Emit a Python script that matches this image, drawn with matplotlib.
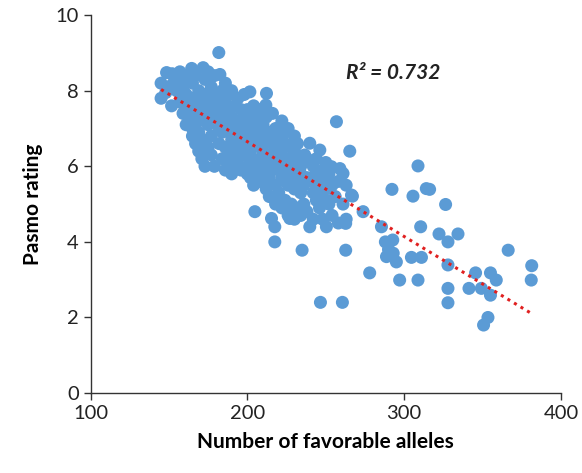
import numpy as np
import matplotlib as mpl
import matplotlib.pyplot as plt

mpl.use('Agg')

# (number of favorable alleles, pasmo rating)
dense_points = [
    (145, 7.8), (145, 8.2), (148.5, 8.48), (148, 7.95), (150, 8.1), (151.7, 7.6),
    (152.7, 8.19), (152, 8.45), (155, 8.0), (155, 8.3), (157, 7.7), (157, 8.5),
    (159.1, 8.41), (159, 8.1), (159, 7.4), (161, 7.9), (161, 8.3), (161, 7.1),
    (164.5, 8.59), (163, 7.6), (163, 7.3), (165, 8.2), (165, 7.8), (165, 7.0),
    (165, 6.8), (167, 8.4), (167, 7.5), (167, 6.6), (169, 8.0), (169, 7.2),
    (169, 6.9), (169, 6.4), (171.8, 8.61), (171, 7.7), (171, 6.2), (171, 6.7),
    (173, 8.3), (173, 7.4), (173, 6.0), (173, 7.9), (175, 8.5), (175, 7.1),
    (175, 6.5), (175, 7.8), (177, 8.1), (177, 7.6), (177, 6.8), (177, 6.3),
    (179, 8.4), (179, 7.3), (179, 7.9), (179, 6.0), (181.8, 9.01), (182.5, 8.43),
    (182, 7.8), (182, 7.0), (182, 6.6), (182, 7.5), (184, 8.0), (184, 7.2),
    (184, 6.2), (184, 6.9), (186, 7.7), (186, 6.5), (186, 8.2), (186, 5.9),
    (188, 7.4), (188, 7.0), (188, 6.1), (188, 7.9), (190, 8.0), (190, 6.7),
    (190, 7.3), (190, 5.8), (190, 6.3), (192, 7.6), (192, 7.0), (192, 6.0),
    (192, 6.5), (194, 7.2), (194, 7.8), (194, 6.8), (194, 6.2), (196, 7.5),
    (196, 6.5), (196, 5.9), (196, 7.0), (198, 7.9), (198, 6.9), (198, 6.3),
    (198, 7.3), (200, 7.0), (200, 6.6), (200, 6.0), (200, 7.5), (200, 5.8),
    (201.6, 7.97), (202, 7.2), (202, 6.4), (202, 5.7), (202, 6.8), (204, 7.6),
    (204, 6.9), (204, 6.1), (204, 5.5), (206, 7.3), (206, 6.6), (206, 5.9),
    (206, 7.0), (208, 6.8), (208, 6.2), (208, 7.5), (208, 5.6), (210, 7.1),
    (210, 6.4), (210, 5.8), (210, 6.0), (212.2, 7.93), (211.8, 7.62), (212, 6.7),
    (212, 6.1), (212, 5.4), (212, 7.3), (214, 6.9), (214, 6.3), (214, 5.7),
    (214, 5.2), (216, 7.4), (216, 6.6), (216, 5.9), (216, 6.2), (218, 7.0),
    (218, 6.4), (218, 5.5), (218, 5.0), (220, 6.8), (220, 6.0), (220, 5.3),
    (220, 6.5), (222, 7.2), (222, 6.3), (222, 5.7), (222, 4.9), (224, 6.6),
    (224, 5.9), (224, 5.1), (224, 6.9), (226, 7.0), (226, 6.2), (226, 5.5),
    (226, 4.7), (228, 6.5), (228, 5.8), (228, 5.0), (228, 6.0), (230, 6.8),
    (230, 6.1), (230, 5.4), (230, 4.6), (232, 6.3), (232, 5.6), (232, 4.9),
    (232, 6.6), (234, 6.0), (234, 5.3), (234, 5.8), (234, 4.7), (236.6, 6.3),
    (236, 5.5), (236, 5.0), (238, 6.2), (238, 5.7), (238, 4.8), (239.8, 6.61),
    (242, 6.0), (242, 5.3), (242, 5.6), (242, 4.6), (244, 5.8), (244, 5.1),
    (244, 6.2), (246.2, 6.43), (246, 5.5), (246, 4.9), (248, 5.9), (248, 5.2),
    (248, 4.6), (250, 6.1), (250, 5.4), (250, 5.7), (252, 5.0), (252, 5.8),
    (253.6, 5.99), (254, 5.5), (254, 4.7), (256.8, 7.18), (256, 5.2), (258, 5.6),
    (258, 4.5), (259, 5.94), (261, 5.81), (261, 5.0), (263, 5.5), (263, 4.6),
]

sparse_points = [
    (204.8, 4.80), (215.4, 4.62), (217.5, 4.40), (217.5, 4.00), (227.1, 4.62),
    (234.9, 3.78), (239.8, 4.40), (246.6, 2.40), (250.4, 4.40), (260.6, 2.40),
    (262.7, 3.78), (262.7, 4.49), (265.3, 6.40), (266.4, 5.24), (267.0, 5.21),
    (273.8, 4.80), (278.0, 3.18), (285.5, 4.40), (288.0, 4.00), (288.7, 3.61),
    (290.0, 3.80), (292.2, 5.39), (292.7, 4.05), (293.0, 3.70), (295.0, 3.47),
    (297.1, 2.99), (304.6, 3.59), (305.6, 5.21), (308.8, 6.01), (308.8, 2.99),
    (310.5, 4.40), (311.0, 3.59), (314.1, 5.41), (316.2, 5.39), (322.2, 4.21),
    (326.4, 4.99), (327.9, 4.00), (327.9, 3.39), (327.9, 2.77), (327.9, 2.39),
    (334.3, 4.21), (341.3, 2.77), (345.5, 3.18), (349.2, 2.77), (350.6, 1.80),
    (353.4, 2.00), (355.0, 3.18), (355.0, 2.59), (358.7, 2.99), (366.3, 3.78),
    (381.3, 3.37), (381.0, 2.99),
]

r_squared = 0.732

points = np.array(dense_points + sparse_points)
alleles = points[:, 0]
rating = points[:, 1]

plt.rcParams['font.family'] = ['Lato', 'DejaVu Sans']

fig = plt.figure(figsize=(5.82, 4.73), dpi=100)
ax = fig.add_axes([0.1555, 0.169, 0.8085, 0.799])

ax.scatter(alleles, rating, s=88, color='#5B9BD5', edgecolors='none', zorder=2)

# linear trend line
slope, intercept = np.polyfit(alleles, rating, 1)
xs = np.array([alleles.min(), alleles.max()])
ax.plot(xs, slope * xs + intercept, color='#E02020', linestyle=(0, (1, 1.5)),
        linewidth=2.2, zorder=3)

ax.text(263, 8.32, 'R² = {:.3f}'.format(r_squared), fontsize=15, style='italic',
        fontweight='bold', color='#222222')

ax.set_xlim(100, 400)
ax.set_ylim(0, 10)
ax.set_xticks([100, 200, 300, 400])
ax.set_yticks([0, 2, 4, 6, 8, 10])
ax.tick_params(direction='out', length=5, width=1, labelsize=14.5,
               color='#333333', labelcolor='#222222')
for side in ['top', 'right']:
    ax.spines[side].set_visible(False)
for side in ['left', 'bottom']:
    ax.spines[side].set_color('#333333')
    ax.spines[side].set_linewidth(1)

ax.set_xlabel('Number of favorable alleles', fontsize=15, fontweight='bold',
              labelpad=7)
ax.set_ylabel('Pasmo rating', fontsize=15, fontweight='bold', labelpad=9)

plt.savefig('out.png', dpi=100)
